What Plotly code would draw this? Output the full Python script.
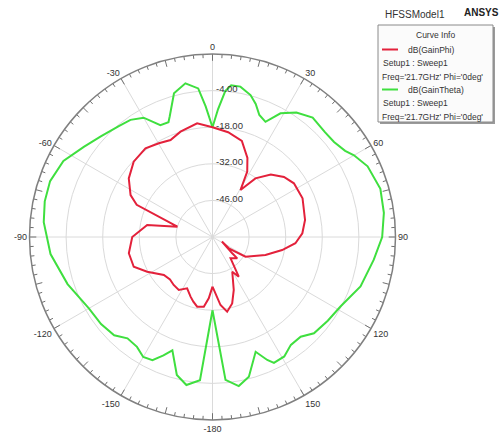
import plotly.graph_objects as go

# Radiation pattern cut at 21.7 GHz, Phi = 0deg (angles in degrees, gain in dB)
theta_gain_theta = [-180, -175, -170, -165.5, -160.5, -157.5, -154, -150, -145.5, -140,
                    -135, -128, -120, -108, -96, -85, -78, -71, -63, -55,
                    -48, -40, -35, -30, -25, -21, -19.5, -15, -10, -5.5,
                    -3, 0, 2.5, 5, 7, 10.5, 15, 18, 21, 24.7,
                    28.8, 34, 40, 47, 52, 57, 60, 65.5, 74, 82,
                    90, 98, 108.5, 118.5, 126, 133.5, 138.5, 144, 149, 154,
                    156, 159.4, 165.4, 170, 174.8, 180]
db_gain_theta = [-32, -5, -2.5, -5.5, -14, -11, -7.6, -7, -9, -9.4,
                 -6.8, -5.9, -5.4, -1.7, 2.3, 4.8, 5.6, 5.7, 4.0, 0.1,
                 -2.5, -4.5, -5.3, -7.3, -12.8, -13.0, -11, -3.1, -0.3, -2.9,
                 -10, -18, -11, -4, -1.5, -1.5, -3.8, -6.5, -10, -11.5,
                 -6, -2.6, -0.4, -1.2, -1.0, 0.5, 2.5, 5.2, 6.8, 6.2,
                 4.9, 2.3, -0.3, -4.3, -5.5, -6.5, -9.1, -9, -6.7, -6.4,
                 -8.5, -13.1, -4.8, -2.1, -5.1, -32]

theta_gain_phi = [-180, -176.5, -172.9, -167.6, -163.5, -159.8, -153.7, -147.5, -141, -135,
                  -128, -118, -110.7, -101, -90, -79.6, -73.7, -67, -62.9, -55,
                  -46.3, -37.1, -29.8, -23.4, -16.9, -7.7, 0, 8.5, 17, 23.8,
                  28, 30.8, 36.2, 43, 50, 56.6, 66.7, 79.5, 87.6, 94.3,
                  100.6, 108.8, 120.8, 124.7, 116, 129.6, 130.8, 139.8, 146.5, 150.4,
                  158.1, 163.5, 168.9, 173.3, 180]
db_gain_phi = [-41, -36.5, -33.1, -32.7, -34.2, -35.7, -38.1, -36, -36.4, -37,
               -36.4, -31.7, -27.8, -27.4, -29.3, -34.6, -46, -28.5, -24.8, -20.9,
               -18.3, -17.5, -18.7, -19.6, -17.9, -16.1, -18, -19.5, -21.6, -26.9,
               -31.7, -39.1, -32.2, -27.3, -24.3, -22.7, -22.5, -24, -25.6, -28.2,
               -32.9, -38.6, -45.3, -52.4, -56, -50.2, -47.5, -49.3, -41.8, -44.7,
               -38.2, -33.5, -30.9, -33.8, -41]

radial_ticks = [-46, -32, -18, -4]
radial_range = [-60, 10]
angle_ticks = [0, 30, 60, 90, 120, 150, 180, 210, 240, 270, 300, 330]
angle_labels = ["0", "30", "60", "90", "120", "150", "-180", "-150", "-120", "-90", "-60", "-30"]

RED = "#e3213b"
GREEN = "#3fdf3f"
FONT = "Liberation Sans, Arial, sans-serif"
TXT = "#333333"

fig = go.Figure()

# tick marks around the outer circle
tick_r, tick_t = [], []
for a in range(0, 360, 3):
    inner = radial_range[1] - (2.6 if a % 15 == 0 else 1.5)
    tick_r += [radial_range[1], inner, None]
    tick_t += [a, a, None]
fig.add_trace(go.Scatterpolar(r=tick_r, theta=tick_t, mode="lines",
                              line=dict(color="#707070", width=1),
                              hoverinfo="skip", showlegend=False))

fig.add_trace(go.Scatterpolar(r=db_gain_theta, theta=theta_gain_theta, mode="lines",
                              line=dict(color=GREEN, width=2), name="dB(GainTheta)",
                              showlegend=False))
fig.add_trace(go.Scatterpolar(r=db_gain_phi, theta=theta_gain_phi, mode="lines",
                              line=dict(color=RED, width=2), name="dB(GainPhi)",
                              showlegend=False))

W, H = 499, 438
cx, cy, R = 212.5, 237, 183
fig.update_layout(
    width=W, height=H,
    margin=dict(l=0, r=0, t=0, b=0),
    paper_bgcolor="white",
    font=dict(family=FONT, size=9, color=TXT),
    polar=dict(
        domain=dict(x=[(cx - R) / W, (cx + R) / W], y=[1 - (cy + R) / H, 1 - (cy - R) / H]),
        bgcolor="white",
        angularaxis=dict(rotation=90, direction="clockwise",
                         tickvals=angle_ticks, ticktext=angle_labels,
                         showline=True, linecolor="#808080", linewidth=1.5,
                         gridcolor="#dadada", gridwidth=1, ticks="",
                         tickfont=dict(size=9, color=TXT)),
        radialaxis=dict(range=radial_range, tickvals=radial_ticks,
                        angle=90, showticklabels=False,
                        showline=False, ticks="",
                        gridcolor="#dadada", gridwidth=1),
    ),
)


def px(x):
    return x / W


def py(y):
    return 1 - y / H


# ring labels, placed just right of the 0 deg spoke
for v in radial_ticks:
    ring_y = cy - (v - radial_range[0]) * R / (radial_range[1] - radial_range[0])
    fig.add_annotation(x=px(cx + 1), y=py(ring_y - 2), xref="paper", yref="paper",
                       text="%.2f" % v, showarrow=False, xanchor="left", yanchor="middle",
                       font=dict(size=9.5, color=TXT), bgcolor="rgba(0,0,0,0)")

# header text
fig.add_annotation(x=px(415), y=py(14), xref="paper", yref="paper", text="HFSSModel1",
                   showarrow=False, font=dict(size=10, color=TXT), xanchor="center",
                   yanchor="middle")
fig.add_annotation(x=px(462), y=py(13), xref="paper", yref="paper", text="<b>ANSYS</b>",
                   showarrow=False, font=dict(size=10, color="#222222"), xanchor="left",
                   yanchor="middle")

# curve info box
bx0, by0, bx1, by1 = 378, 25, 493, 122
fig.add_shape(type="rect", xref="paper", yref="paper",
              x0=px(bx0 + 2), y0=py(by1 + 2), x1=px(bx1 + 2), y1=py(by0 + 2),
              line=dict(width=0), fillcolor="#9a9a9a")
fig.add_shape(type="rect", xref="paper", yref="paper",
              x0=px(bx0), y0=py(by1), x1=px(bx1), y1=py(by0),
              line=dict(color="#8a8a8a", width=1), fillcolor="#fbfbfb")
fig.add_annotation(x=px((bx0 + bx1) / 2), y=py(35.5), xref="paper", yref="paper",
                   text="Curve Info", showarrow=False, xanchor="center", yanchor="middle",
                   font=dict(size=8.5, color=TXT))

entries = [("dB(GainPhi)", RED, 50.5), ("dB(GainTheta)", GREEN, 90.5)]
for name, color, yy in entries:
    fig.add_shape(type="line", xref="paper", yref="paper",
                  x0=px(382), x1=px(398), y0=py(yy - 1), y1=py(yy - 1),
                  line=dict(color=color, width=2))
    fig.add_annotation(x=px(406), y=py(yy), xref="paper", yref="paper", text=name,
                       showarrow=False, xanchor="left", yanchor="middle",
                       font=dict(size=8.5, color=TXT))
    fig.add_annotation(x=px(381), y=py(yy + 13), xref="paper", yref="paper",
                       text="Setup1 : Sweep1", showarrow=False, xanchor="left",
                       yanchor="middle", font=dict(size=8.5, color=TXT))
    fig.add_annotation(x=px(380), y=py(yy + 26.5), xref="paper", yref="paper",
                       text="Freq='21.7GHz' Phi='0deg'", showarrow=False, xanchor="left",
                       yanchor="middle", font=dict(size=8.5, color=TXT))

fig.write_html("out.html")
